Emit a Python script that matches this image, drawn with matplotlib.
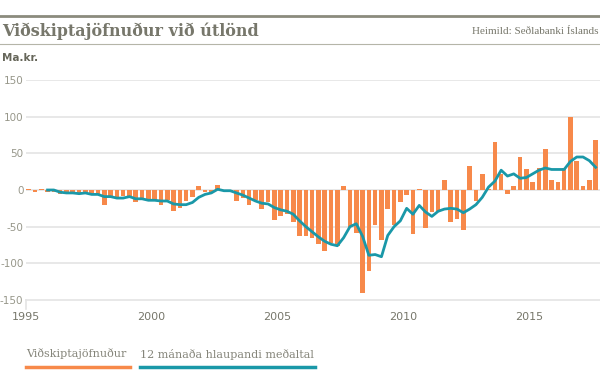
import numpy as np
import matplotlib
matplotlib.use('Agg')
import matplotlib.pyplot as plt
from matplotlib.lines import Line2D

# quarterly current account balance, 1995Q1 - 2017Q3 (ma.kr.)
balance = [2, -3, 2, -3, -3, -6, -4, -5, -4, -4, -4, -6, -20, -8, -9, -8,
           -8, -17, -14, -12, -14, -20, -13, -29, -24, -15, -9, 5, -3, -3, 7, -2,
           -2, -15, -11, -20, -13, -26, -17, -41, -35, -33, -43, -63, -63, -66, -74, -83,
           -72, -77, 5, -50, -59, -140, -111, -48, -68, -26, -48, -17, -7, -60, 2, -52,
           -30, -28, 14, -43, -40, -55, 33, -15, 22, 2, 65, 22, -6, 5, 45, 28,
           11, 30, 56, 14, 11, 30, 99, 39, 5, 14, 68]
# 12 month running average, from 1995Q4
running = [0, 0, -3, -4, -4, -5, -4, -6, -6, -9, -9, -11, -11, -9, -12, -12,
           -14, -14, -15, -15, -19, -20, -20, -17, -10, -6, -4, 1, -1, -1, -4, -7,
           -11, -15, -18, -19, -24, -27, -29, -33, -42, -50, -57, -64, -70, -74, -76, -65,
           -50, -46, -63, -89, -88, -91, -62, -50, -42, -25, -33, -21, -30, -36, -29, -26,
           -25, -26, -31, -26, -20, -10, 4, 12, 27, 19, 22, 16, 17, 22, 27, 30,
           28, 28, 28, 39, 45, 45, 40, 31]
first_year = 1995
years = [1995, 2000, 2005, 2010, 2015]
yticks = [-150, -100, -50, 0, 50, 100, 150]

orange = '#f7894a'
teal = '#1a98a8'
grey = '#77776b'
grid = '#e4e4e4'

x = first_year + 0.125 + 0.25 * np.arange(len(balance))
x_avg = x[len(balance) - len(running):]

W, H = 600, 392
fig = plt.figure(figsize=(W / 100, H / 100), dpi=100)
ax = fig.add_axes([25.5 / W, 1 - 300 / H, 574.5 / W, 220 / H])

for y in yticks[1:]:
    ax.axhline(y, color=grid, lw=1.2, zorder=0)
ax.bar(x, balance, width=0.18, color=orange, zorder=2)
ax.plot(x_avg, running, color=teal, lw=2.0, zorder=3, solid_joinstyle='round')

ax.set_xlim(first_year, first_year + 574.5 / 25.2)
ax.set_ylim(-150, 150)
for s in ['top', 'right', 'left']:
    ax.spines[s].set_visible(False)
ax.spines['bottom'].set_color(grid)
ax.spines['bottom'].set_linewidth(1.2)
ax.plot([first_year, first_year], [-150, -162], color=grid, lw=1.2, clip_on=False)

ax.set_yticks(yticks)
ax.set_yticklabels([str(v) for v in yticks])
ax.set_xticks(years)
ax.set_xticklabels([str(v) for v in years])
ax.tick_params(axis='y', length=0, pad=1.5, labelsize=7.5, labelcolor='#97978a')
ax.tick_params(axis='x', length=0, pad=9, labelsize=8, labelcolor=grey)

# header
fig.add_artist(Line2D([0, 1], [1 - 16 / H] * 2, color='#8b8b7d', lw=2))
fig.add_artist(Line2D([0, 1], [1 - 44 / H] * 2, color='#b5b5a8', lw=0.8))
fig.text(2 / W, 1 - 31 / H, 'Viðskiptajöfnuður við útlönd', family='DejaVu Serif',
         weight='bold', fontsize=11.5, color=grey, va='center')
fig.text(598 / W, 1 - 31 / H, 'Heimild: Seðlabanki Íslands', family='Liberation Serif',
         fontsize=8, color=grey, va='center', ha='right')
fig.text(2 / W, 1 - 58 / H, 'Ma.kr.', fontsize=7.5, weight='bold', color='#66665a', va='center')

# legend
fig.text(26 / W, 1 - 354 / H, 'Viðskiptajöfnuður', family='DejaVu Serif',
         fontsize=8, color='#85857a', va='center')
fig.add_artist(Line2D([26 / W, 130 / W], [1 - 367 / H] * 2, color=orange, lw=2.5))
fig.text(140 / W, 1 - 354 / H, '12 mánaða hlaupandi meðaltal', family='DejaVu Serif',
         fontsize=8, color='#85857a', va='center')
fig.add_artist(Line2D([140 / W, 315 / W], [1 - 367 / H] * 2, color=teal, lw=2.5))

fig.savefig('out.png', dpi=100)
